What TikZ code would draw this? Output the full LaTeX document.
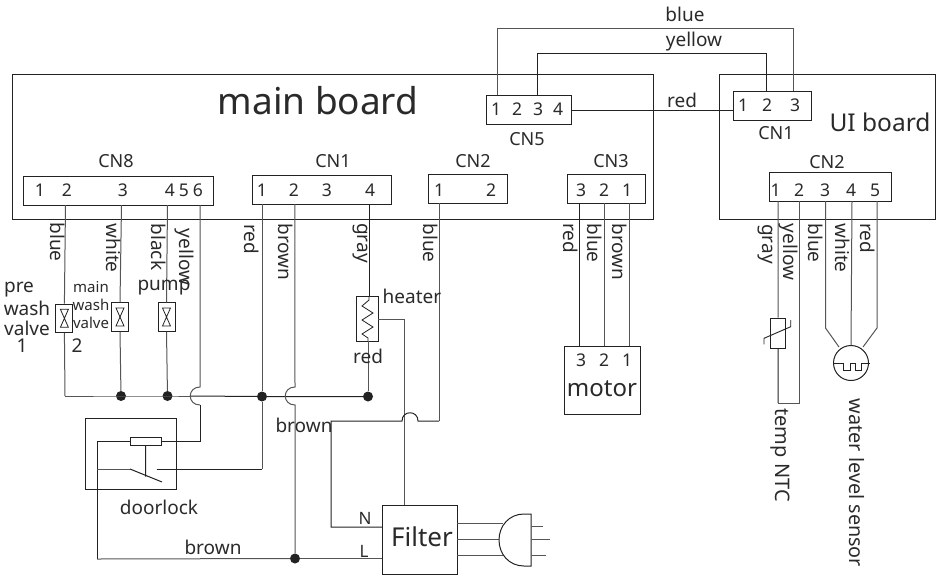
\documentclass[tikz,border=0pt]{standalone}
\usepackage{fontspec}
\setmainfont{Noto Sans}
\definecolor{inkc}{HTML}{2A2A2A}
\definecolor{wirec}{HTML}{555555}
\definecolor{darkc}{HTML}{222222}
\newcommand{\fs}[1]{\fontsize{#1}{#1}\selectfont}
\newcommand{\T}[5]{\node[txt] (#1) at (#2,#3) {\fs{#4}#5};}
\newcommand{\R}[4]{\node[txt,rotate=-90] (#1) at (#2,#3) {\fs{19}#4};}
\newcommand{\RB}[5]{\node[txt,rotate=-90] (#1) at (#2,#3) {\fs{#4}#5};}
\tikzset{
  txt/.style={inner sep=0pt,text=inkc,anchor=center},
  boxn/.style={draw=darkc,line width=1pt,fill=white,inner sep=0pt},
  wire/.style={draw=wirec,line width=1pt},
  wired/.style={draw=darkc,line width=1pt},
  dotn/.style={circle,fill=darkc,inner sep=0pt,minimum size=10pt}
}
\begin{document}
\begin{tikzpicture}[x=1pt,y=-1pt,line join=miter]
\useasboundingbox (0,0) rectangle (939,576);
% boards
\node[boxn,minimum width=641pt,minimum height=144.5pt] (mainb) at (332.5,147.2) {};
\node[boxn,minimum width=216pt,minimum height=144.5pt] (uib) at (827,147) {};
% pins
\coordinate (c8a) at (65.5,205);
\coordinate (c8b) at (121.5,205);
\coordinate (c8c) at (167.5,205);
\coordinate (c8d) at (200,205);
\coordinate (c1a) at (262,204);
\coordinate (c1b) at (294.8,204);
\coordinate (c1c) at (369,204);
\coordinate (c2a) at (439,203);
\coordinate (c3a) at (579.5,203);
\coordinate (c3b) at (604.5,203);
\coordinate (c3c) at (629,203);
\coordinate (u2a) at (778,201);
\coordinate (u2b) at (799,201);
\coordinate (u2c) at (825.5,201);
\coordinate (u2d) at (852,201);
\coordinate (u2e) at (877,201);
% top wires
\coordinate (b1) at (497,28.5);
\coordinate (b2) at (793,28.5);
\coordinate (y1) at (537,53);
\coordinate (y2) at (766,53);
\coordinate (cn5b) at (497,95);
\coordinate (cn5y) at (537,95);
\coordinate (cn1b) at (793,91);
\coordinate (cn1y) at (766,91);
\draw[wire] (cn5b) -- (b1) -- (b2) -- (cn1b);
\draw[wired] (cn5y) -- (y1) -- (y2) -- (cn1y);
% connector boxes
\node[boxn,minimum width=85pt,minimum height=29pt] (cn5) at (528.5,109.5) {};
\node[boxn,minimum width=78pt,minimum height=29pt] (ucn1) at (772,105.5) {};
\node[boxn,minimum width=190pt,minimum height=29pt] (cn8) at (118,190.5) {};
\node[boxn,minimum width=139pt,minimum height=29pt] (cn1) at (322.2,189.5) {};
\node[boxn,minimum width=78.5pt,minimum height=29pt] (cn2) at (468,188.5) {};
\node[boxn,minimum width=78pt,minimum height=29pt] (cn3) at (606.7,188.5) {};
\node[boxn,minimum width=122pt,minimum height=29pt] (ucn2) at (830,186.5) {};
\coordinate (ra) at (571,110);
\coordinate (rb) at (733,110);
\draw[wired] (ra) -- (rb);
% components
\node[boxn,minimum width=17pt,minimum height=28.5pt] (v1) at (64.4,318.3) {};
\node[boxn,minimum width=17pt,minimum height=28.5pt] (v2) at (120,317) {};
\node[boxn,minimum width=17pt,minimum height=28.5pt] (v3) at (166.5,317) {};
\node[boxn,minimum width=22pt,minimum height=45pt] (heat) at (367,318.5) {};
\node[boxn,minimum width=76pt,minimum height=68.5pt] (motor) at (602,380.5) {};
\node[boxn,minimum width=91pt,minimum height=70.7pt] (lock) at (131.2,454.3) {};
\node[boxn,minimum width=31pt,minimum height=8pt] (coil) at (145.5,441) {};
\node[boxn,minimum width=75pt,minimum height=69pt] (filter) at (419.5,539.5) {};
\node[boxn,minimum width=14.5pt,minimum height=30pt] (ntc) at (778.2,333) {};
\node[circle,boxn,minimum size=35pt] (wls) at (851,363) {};
% hourglass symbols
\foreach \n/\cx/\cy in {a/64.4/318.3,b/120/317,c/166.5/317}{
  \draw[wired,line width=.8pt] (\cx-4,\cy-9) -- (\cx+4,\cy-9) -- (\cx-4,\cy+9) -- (\cx+4,\cy+9) -- cycle;
}
% heater element
\draw[wired,line width=.8pt] (369,296.5) -- (369,300) -- (362,306) -- (373,313) -- (362,320) -- (373,327) -- (362,334) -- (368,338) -- (368,341);
% junctions
\node[dotn] (d1) at (121,396) {};
\node[dotn] (d2) at (167.5,396) {};
\node[dotn] (d3) at (262,396.5) {};
\node[dotn] (d4) at (368,396.5) {};
\node[dotn] (d5) at (295,558.5) {};
% common line
\coordinate (rowl) at (65,396);
\draw[wire] (rowl) -- (d1.center) -- (d2.center) -- (190,396);
\draw[wired] (190,396) -- (d3.center) -- (d4.center);
% valves
\draw[wire] (c8a) -- (v1.north);
\draw[wire] (v1.south) -- (rowl);
\draw[wire] (c8b) -- (v2.north);
\draw[wire] (v2.south) -- (d1);
\draw[wire] (c8c) -- (v3.north);
\draw[wire] (v3.south) -- (d2);
% yellow to coil, with jump
\coordinate (j1a) at (200,387);
\coordinate (j1b) at (200,405);
\coordinate (k1) at (200,441);
\draw[wire] (c8d) -- (j1a) .. controls (187,387) and (187,405) .. (j1b);
\draw[wired] (j1b) -- (k1) -- (coil.east);
% doorlock
\coordinate (k2) at (97,441);
\coordinate (k3) at (97,559);
\draw[wired] (coil.west) -- (k2) -- (k3);
\draw[wire] (k3) -- (d5);
\coordinate (s1) at (97,469);
\coordinate (s2) at (130,469);
\coordinate (s3) at (162,482);
\draw[wire] (s1) -- (s2);
\draw[wired] (s2) -- (s3);
\coordinate (s4) at (145.7,476.5);
\draw[wired] (coil.south) -- (s4);
\coordinate (s5) at (156.7,469);
\coordinate (s6) at (262,469);
\draw[wired] (s5) -- (s6);
\draw[wire] (s6) -- (d3);
\draw[wire] (c1a) -- (d3);
% brown with jump
\coordinate (j2a) at (295,387);
\coordinate (j2b) at (295,405);
\draw[wire] (c1b) -- (j2a) .. controls (282,387) and (282,405) .. (j2b) -- (d5);
\coordinate (fl) at (382,558.5);
\draw[wire] (d5) -- (fl);
% gray to heater
\coordinate (hn) at (369,296);
\draw[wired] (c1c) -- (hn);
\coordinate (hs) at (368,341);
\draw[wire] (hs) -- (d4);
% heater to filter
\coordinate (h1) at (378,319);
\coordinate (h2) at (404,319);
\coordinate (h3) at (404,505);
\draw[wire] (h1) -- (h2) -- (h3);
% N
\coordinate (n1) at (439,421);
\coordinate (n2) at (418,421);
\coordinate (n3) at (402,421);
\coordinate (n4) at (331,421);
\coordinate (n5) at (331,527);
\coordinate (n6) at (382,527);
\draw[wire] (c2a) -- (n1);
\draw[wired] (n1) -- (n2) .. controls (418,410) and (402,410) .. (n3) -- (n4) -- (n5) -- (n6);
% motor wires
\coordinate (m3) at (579.5,346);
\coordinate (m2) at (604.5,346);
\coordinate (m1) at (629,346);
\draw[wired] (c3a) -- (m3);
\draw[wire] (c3b) -- (m2);
\draw[wire] (c3c) -- (m1);
% UI wires
\coordinate (t1) at (778,403);
\coordinate (t2) at (799,403);
\draw[wire] (u2a) -- (ntc.north);
\draw[wired] (ntc.south) -- (t1);
\draw[wire] (t1) -- (t2) -- (u2b);
\draw[wired,line width=.9pt] (764,344.3) -- (764,338.3) -- (790.7,326.7) -- (790.7,320);
\coordinate (w1) at (825.5,328);
\coordinate (w2) at (839,347);
\coordinate (w3) at (877,328);
\coordinate (w4) at (863,347);
\draw[wire] (u2c) -- (w1) -- (w2);
\draw[wire] (u2d) -- (wls.north);
\draw[wire] (u2e) -- (w3) -- (w4);
\draw[wired,line width=.9pt] (833,363) -- (843,363) -- (843,370) -- (850,370) -- (850,363) -- (855,363) -- (855,370) -- (861,370) -- (861,363) -- (869.5,363);
% plug
\coordinate (pa) at (503,523);
\coordinate (pb) at (499,539);
\coordinate (pc) at (504,555);
\draw[wire] (457,523) -- (pa);
\draw[wire] (457,539) -- (pb);
\draw[wire] (457,555) -- (pc);
\draw[wired] (531,514) -- (524,514) .. controls (509,514) and (499,526) .. (499,540) .. controls (499,554) and (509,566) .. (524,566) -- (531,566) -- cycle;
\draw[wire] (531,526) -- (543,526);
\draw[wire] (531,539) -- (550,539);
\draw[wire] (531,555) -- (546,555);
% texts
\T{tmain}{318}{101}{37}{main board}
\T{tui}{880}{122}{24.5}{UI board}
\T{tblue}{685}{14}{19}{blue}
\T{tyel}{694}{42}{19}{yellow}
\T{tred}{682}{100}{19}{red}
\T{tcn5}{527}{139}{18}{CN5}
\T{tucn1}{776}{133}{18}{CN1}
\T{tucn2}{827}{162}{18}{CN2}
\T{tcn8}{116}{161}{18}{CN8}
\T{tcn1}{333}{161}{18}{CN1}
\T{tcn2}{473}{161}{18}{CN2}
\T{tcn3}{611}{161}{18}{CN3}
% pin numbers
\foreach \nm/\xx/\yy/\s in {a/40/190/1,b/67/190/2,c/123/190/3,d/170/190/4,e/184/190/5,f/198/190/6,
 g/262/190/1,h/294/190/2,i/327/190/3,j/370/190/4,k/439/190/1,l/491/190/2,m/581/190/3,n/604/190/2,o/627/190/1,
 p/496/109/1,q/517/109/2,r/538/109/3,s/558/109/4,t/743/105/1,u/767/105/2,v/795/105/3,
 w/775.7/190/1,x/799/190/2,y/825/190/3,z/851/190/4,A/875/190/5,B/581/360/3,C/604/360/2,D/627/360/1}{
  \node[txt] (pin\nm) at (\xx,\yy) {\fs{17.5}\s};
}
\R{r1}{57.5}{242}{blue}
\R{r2}{113.5}{248}{white}
\R{r3}{158.5}{247}{black}
\R{r4}{184}{257}{yellow}
\R{r5}{251.5}{239}{red}
\R{r6}{285.5}{252}{brown}
\R{r7}{360}{243}{gray}
\R{r8}{430.5}{243}{blue}
\R{r9}{570.5}{238}{red}
\R{r10}{594.5}{243}{blue}
\R{r11}{619.5}{252}{brown}
\R{r12}{765.5}{244}{gray}
\R{r13}{788}{252}{yellow}
\R{r14}{815.5}{243}{blue}
\R{r15}{842.5}{248}{white}
\R{r16}{867.5}{238}{red}
\RB{r17}{780}{455}{20}{temp NTC}
\RB{r18}{857}{483}{19.8}{water level sensor}
\T{l1}{19}{290}{19}{pre}
\T{l2}{27}{308}{19}{wash}
\T{l3}{27}{328}{19}{valve}
\T{l4}{22}{346}{19}{1}
\T{l5}{91}{287}{15}{main}
\T{l6}{91}{305}{15}{wash}
\T{l7}{91}{323}{15}{valve}
\T{l8}{77}{346}{19}{2}
\T{l9}{164}{288}{19}{pump}
\T{l10}{412}{296}{19}{heater}
\T{l11}{368}{356}{19}{red}
\T{l12}{304}{425}{19}{brown}
\T{l13}{159}{507}{19}{doorlock}
\T{l14}{213}{547}{19}{brown}
\T{l15}{365}{518}{17}{N}
\T{l16}{364}{551}{17}{L}
\T{l17}{422}{537}{26}{Filter}
\T{l18}{602}{389}{24}{motor}
\end{tikzpicture}
\end{document}
